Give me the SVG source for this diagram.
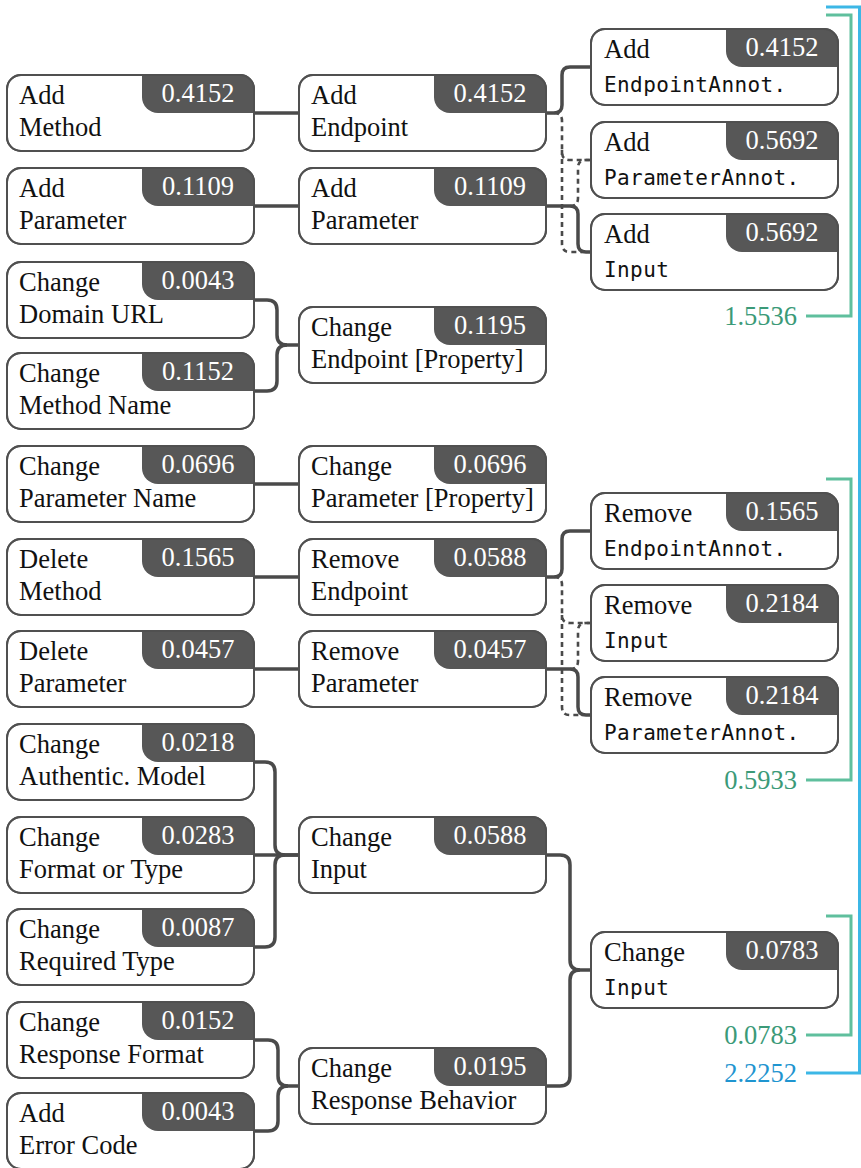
<svg xmlns="http://www.w3.org/2000/svg" width="861" height="1168" viewBox="0 0 861 1168">
  <style>
    .box { fill: #ffffff; stroke: #505050; stroke-width: 2; }
    .badge { fill: #575757; }
    .t { font-family: "Liberation Serif", "Times New Roman", serif; font-size: 26.5px; fill: #111111; }
    .m { font-family: "DejaVu Sans Mono", "Liberation Mono", monospace; font-size: 21px; letter-spacing: 0.4px; fill: #111111; }
    .v { font-family: "Liberation Serif", "Times New Roman", serif; font-size: 26.5px; fill: #ffffff; text-anchor: middle; }
    .wire { fill: none; stroke: #4a4a4a; stroke-width: 3.5; }
    .dash { fill: none; stroke: #4a4a4a; stroke-width: 2.6; stroke-dasharray: 5 4; }
    .grn { fill: none; stroke: #5fbf9d; stroke-width: 3; }
    .blu { fill: none; stroke: #3cb7e6; stroke-width: 3; }
    .gt { font-family: "Liberation Serif", "Times New Roman", serif; font-size: 26.5px; fill: #3b9a78; text-anchor: end; }
    .bt { font-family: "Liberation Serif", "Times New Roman", serif; font-size: 26.5px; fill: #1f95d0; text-anchor: end; }
  </style>
  <defs>
    <!-- node card: 247 x 76, value badge in the top-right corner -->
    <rect id="card" class="box" x="0" y="0" width="247" height="76" rx="14" ry="14"/>
    <path id="badge" class="badge" d="M135,0 H233 A14,14 0 0 1 247,14 V38 H151 A16,16 0 0 1 135,22 Z"/>
    <rect id="frame" x="0" y="0" width="247" height="76" rx="14" ry="14" fill="none" stroke="#505050" stroke-width="2"/>
  </defs>

  <!-- connectors -->
  <g id="connectors">
    <!-- dashed cross links -->
    <path class="dash" d="M554,113 Q562,113 562,121 V152 Q562,160 570,160 H591"/>
    <path class="dash" d="M562,150 V244 Q562,252 570,252 H582"/>
    <path class="dash" d="M570,206 Q578,206 578,198 V168 Q578,160 586,160 H591"/>
    <path class="dash" d="M554,577 Q562,577 562,585 V615 Q562,623 570,623 H591"/>
    <path class="dash" d="M562,615 V707 Q562,715 570,715 H582"/>
    <path class="dash" d="M570,669 Q578,669 578,661 V631 Q578,623 586,623 H591"/>

    <!-- solid links -->
    <path class="wire" d="M254,113 H299"/>
    <path class="wire" d="M254,206 H299"/>
    <path class="wire" d="M254,300 H267 Q277,300 277,310 V335 Q277,345 287,345 H299"/>
    <path class="wire" d="M254,391 H267 Q277,391 277,381 V355 Q277,345 287,345"/>
    <path class="wire" d="M254,484 H299"/>
    <path class="wire" d="M254,577 H299"/>
    <path class="wire" d="M254,669 H299"/>
    <path class="wire" d="M254,762 H265 Q275,762 275,772 V845 Q275,855 285,855 H299"/>
    <path class="wire" d="M254,855 H299"/>
    <path class="wire" d="M254,947 H265 Q275,947 275,937 V865 Q275,855 285,855"/>
    <path class="wire" d="M254,1040 H268 Q278,1040 278,1050 V1076 Q278,1086 288,1086 H299"/>
    <path class="wire" d="M254,1131 H268 Q278,1131 278,1121 V1096 Q278,1086 288,1086"/>

    <path class="wire" d="M546,113 H554 Q562,113 562,105 V75 Q562,67 570,67 H591"/>
    <path class="wire" d="M546,206 H570 Q578,206 578,214 V244 Q578,252 586,252 H591"/>
    <path class="wire" d="M546,577 H554 Q562,577 562,569 V539 Q562,531 570,531 H591"/>
    <path class="wire" d="M546,669 H570 Q578,669 578,677 V707 Q578,715 586,715 H591"/>
    <path class="wire" d="M546,855 H560 Q570,855 570,865 V960 Q570,970 580,970 H591"/>
    <path class="wire" d="M546,1086 H560 Q570,1086 570,1076 V980 Q570,970 580,970"/>
  </g>

  <!-- left column -->
  <g id="add-method" transform="translate(7,75)">
    <use href="#card"/><use href="#badge"/><use href="#frame"/>
    <text class="t" x="12" y="29">Add</text><text class="t" x="12" y="61">Method</text>
    <text class="v" x="191" y="27">0.4152</text>
  </g>
  <g id="add-parameter" transform="translate(7,168)">
    <use href="#card"/><use href="#badge"/><use href="#frame"/>
    <text class="t" x="12" y="29">Add</text><text class="t" x="12" y="61">Parameter</text>
    <text class="v" x="191" y="27">0.1109</text>
  </g>
  <g id="change-domain-url" transform="translate(7,262)">
    <use href="#card"/><use href="#badge"/><use href="#frame"/>
    <text class="t" x="12" y="29">Change</text><text class="t" x="12" y="61">Domain URL</text>
    <text class="v" x="191" y="27">0.0043</text>
  </g>
  <g id="change-method-name" transform="translate(7,353)">
    <use href="#card"/><use href="#badge"/><use href="#frame"/>
    <text class="t" x="12" y="29">Change</text><text class="t" x="12" y="61">Method Name</text>
    <text class="v" x="191" y="27">0.1152</text>
  </g>
  <g id="change-parameter-name" transform="translate(7,446)">
    <use href="#card"/><use href="#badge"/><use href="#frame"/>
    <text class="t" x="12" y="29">Change</text><text class="t" x="12" y="61">Parameter Name</text>
    <text class="v" x="191" y="27">0.0696</text>
  </g>
  <g id="delete-method" transform="translate(7,539)">
    <use href="#card"/><use href="#badge"/><use href="#frame"/>
    <text class="t" x="12" y="29">Delete</text><text class="t" x="12" y="61">Method</text>
    <text class="v" x="191" y="27">0.1565</text>
  </g>
  <g id="delete-parameter" transform="translate(7,631)">
    <use href="#card"/><use href="#badge"/><use href="#frame"/>
    <text class="t" x="12" y="29">Delete</text><text class="t" x="12" y="61">Parameter</text>
    <text class="v" x="191" y="27">0.0457</text>
  </g>
  <g id="change-authentic-model" transform="translate(7,724)">
    <use href="#card"/><use href="#badge"/><use href="#frame"/>
    <text class="t" x="12" y="29">Change</text><text class="t" x="12" y="61">Authentic. Model</text>
    <text class="v" x="191" y="27">0.0218</text>
  </g>
  <g id="change-format-or-type" transform="translate(7,817)">
    <use href="#card"/><use href="#badge"/><use href="#frame"/>
    <text class="t" x="12" y="29">Change</text><text class="t" x="12" y="61">Format or Type</text>
    <text class="v" x="191" y="27">0.0283</text>
  </g>
  <g id="change-required-type" transform="translate(7,909)">
    <use href="#card"/><use href="#badge"/><use href="#frame"/>
    <text class="t" x="12" y="29">Change</text><text class="t" x="12" y="61">Required Type</text>
    <text class="v" x="191" y="27">0.0087</text>
  </g>
  <g id="change-response-format" transform="translate(7,1002)">
    <use href="#card"/><use href="#badge"/><use href="#frame"/>
    <text class="t" x="12" y="29">Change</text><text class="t" x="12" y="61">Response Format</text>
    <text class="v" x="191" y="27">0.0152</text>
  </g>
  <g id="add-error-code" transform="translate(7,1093)">
    <use href="#card"/><use href="#badge"/><use href="#frame"/>
    <text class="t" x="12" y="29">Add</text><text class="t" x="12" y="61">Error Code</text>
    <text class="v" x="191" y="27">0.0043</text>
  </g>

  <!-- middle column -->
  <g id="add-endpoint" transform="translate(299,75)">
    <use href="#card"/><use href="#badge"/><use href="#frame"/>
    <text class="t" x="12" y="29">Add</text><text class="t" x="12" y="61">Endpoint</text>
    <text class="v" x="191" y="27">0.4152</text>
  </g>
  <g id="add-parameter-2" transform="translate(299,168)">
    <use href="#card"/><use href="#badge"/><use href="#frame"/>
    <text class="t" x="12" y="29">Add</text><text class="t" x="12" y="61">Parameter</text>
    <text class="v" x="191" y="27">0.1109</text>
  </g>
  <g id="change-endpoint-property" transform="translate(299,307)">
    <use href="#card"/><use href="#badge"/><use href="#frame"/>
    <text class="t" x="12" y="29">Change</text><text class="t" x="12" y="61">Endpoint [Property]</text>
    <text class="v" x="191" y="27">0.1195</text>
  </g>
  <g id="change-parameter-property" transform="translate(299,446)">
    <use href="#card"/><use href="#badge"/><use href="#frame"/>
    <text class="t" x="12" y="29">Change</text><text class="t" x="12" y="61">Parameter [Property]</text>
    <text class="v" x="191" y="27">0.0696</text>
  </g>
  <g id="remove-endpoint" transform="translate(299,539)">
    <use href="#card"/><use href="#badge"/><use href="#frame"/>
    <text class="t" x="12" y="29">Remove</text><text class="t" x="12" y="61">Endpoint</text>
    <text class="v" x="191" y="27">0.0588</text>
  </g>
  <g id="remove-parameter" transform="translate(299,631)">
    <use href="#card"/><use href="#badge"/><use href="#frame"/>
    <text class="t" x="12" y="29">Remove</text><text class="t" x="12" y="61">Parameter</text>
    <text class="v" x="191" y="27">0.0457</text>
  </g>
  <g id="change-input" transform="translate(299,817)">
    <use href="#card"/><use href="#badge"/><use href="#frame"/>
    <text class="t" x="12" y="29">Change</text><text class="t" x="12" y="61">Input</text>
    <text class="v" x="191" y="27">0.0588</text>
  </g>
  <g id="change-response-behavior" transform="translate(299,1048)">
    <use href="#card"/><use href="#badge"/><use href="#frame"/>
    <text class="t" x="12" y="29">Change</text><text class="t" x="12" y="61">Response Behavior</text>
    <text class="v" x="191" y="27">0.0195</text>
  </g>

  <!-- right column -->
  <g id="add-endpoint-annot" transform="translate(591,29)">
    <use href="#card"/><use href="#badge"/><use href="#frame"/>
    <text class="t" x="13" y="29">Add</text><text class="m" x="13" y="63">EndpointAnnot.</text>
    <text class="v" x="191" y="27">0.4152</text>
  </g>
  <g id="add-parameter-annot" transform="translate(591,122)">
    <use href="#card"/><use href="#badge"/><use href="#frame"/>
    <text class="t" x="13" y="29">Add</text><text class="m" x="13" y="63">ParameterAnnot.</text>
    <text class="v" x="191" y="27">0.5692</text>
  </g>
  <g id="add-input" transform="translate(591,214)">
    <use href="#card"/><use href="#badge"/><use href="#frame"/>
    <text class="t" x="13" y="29">Add</text><text class="m" x="13" y="63">Input</text>
    <text class="v" x="191" y="27">0.5692</text>
  </g>
  <g id="remove-endpoint-annot" transform="translate(591,493)">
    <use href="#card"/><use href="#badge"/><use href="#frame"/>
    <text class="t" x="13" y="29">Remove</text><text class="m" x="13" y="63">EndpointAnnot.</text>
    <text class="v" x="191" y="27">0.1565</text>
  </g>
  <g id="remove-input" transform="translate(591,585)">
    <use href="#card"/><use href="#badge"/><use href="#frame"/>
    <text class="t" x="13" y="29">Remove</text><text class="m" x="13" y="63">Input</text>
    <text class="v" x="191" y="27">0.2184</text>
  </g>
  <g id="remove-parameter-annot" transform="translate(591,677)">
    <use href="#card"/><use href="#badge"/><use href="#frame"/>
    <text class="t" x="13" y="29">Remove</text><text class="m" x="13" y="63">ParameterAnnot.</text>
    <text class="v" x="191" y="27">0.2184</text>
  </g>
  <g id="change-input-2" transform="translate(591,932)">
    <use href="#card"/><use href="#badge"/><use href="#frame"/>
    <text class="t" x="13" y="29">Change</text><text class="m" x="13" y="63">Input</text>
    <text class="v" x="191" y="27">0.0783</text>
  </g>

  <!-- group totals -->
  <g id="totals">
    <path class="blu" d="M826,7 H859.5 V1073 H806"/>
    <text class="bt" x="797" y="1082">2.2252</text>
    <path class="grn" d="M826,15 H851 V316 H806"/>
    <text class="gt" x="797" y="325">1.5536</text>
    <path class="grn" d="M826,479 H851 V780 H806"/>
    <text class="gt" x="797" y="789">0.5933</text>
    <path class="grn" d="M826,916 H851 V1035 H806"/>
    <text class="gt" x="797" y="1044">0.0783</text>
  </g>
</svg>
